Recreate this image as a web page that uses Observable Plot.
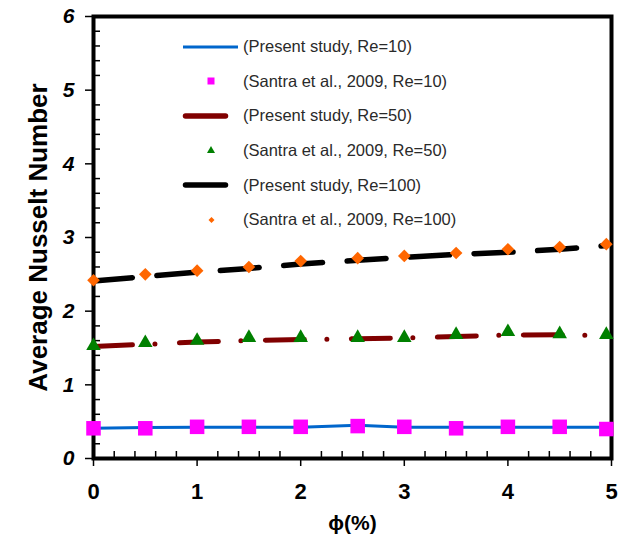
<!DOCTYPE html>
<html>
<head>
<meta charset="utf-8">
<script src="https://cdn.jsdelivr.net/npm/d3@7"></script>
<script src="https://cdn.jsdelivr.net/npm/@observablehq/plot@0.6"></script>
<style>
  body { margin: 0; background: #fff; }
  #wrap { position: relative; width: 626px; height: 536px; }
  #legend {
    position: absolute; left: 180px; top: 29.4px;
    font-family: "Liberation Sans", Arial, sans-serif;
    font-size: 16.5px; color: #2a2a2a;
  }
  .row { height: 34.6px; display: flex; align-items: center; white-space: nowrap; }
  .row svg { width: 63px; height: 20px; flex: none; }
</style>
</head>
<body>
<div id="wrap"><div id="legend"></div></div>
<script>
// Nanofluid volume fraction ϕ (%)
const phi = [0, 0.5, 1, 1.5, 2, 2.55, 3, 3.5, 4, 4.5, 4.95];

// Average Nusselt number, present study (lines) and Santra et al. 2009 (markers)
const presentRe10  = [0.41, 0.42, 0.425, 0.425, 0.425, 0.45, 0.425, 0.425, 0.425, 0.425, 0.425];
const santraRe10   = [0.41, 0.41, 0.43, 0.43, 0.43, 0.44, 0.43, 0.41, 0.43, 0.43, 0.40];
const presentRe50  = [1.52, 1.55, 1.58, 1.60, 1.615, 1.625, 1.635, 1.655, 1.675, 1.68, 1.665];
const santraRe50   = [1.53, 1.57, 1.60, 1.64, 1.64, 1.64, 1.64, 1.68, 1.72, 1.69, 1.68];
const presentRe100 = [2.41, 2.47, 2.53, 2.58, 2.64, 2.69, 2.73, 2.77, 2.80, 2.84, 2.89];
const santraRe100  = [2.42, 2.50, 2.55, 2.60, 2.68, 2.72, 2.75, 2.79, 2.84, 2.87, 2.91];

const seriesLabels = [
  "(Present study, Re=10)",
  "(Santra et al., 2009, Re=10)",
  "(Present study, Re=50)",
  "(Santra et al., 2009, Re=50)",
  "(Present study, Re=100)",
  "(Santra et al., 2009, Re=100)"
];

const xTicks = [0, 1, 2, 3, 4, 5];
const yTicks = [0, 1, 2, 3, 4, 5, 6];
const xMinor = d3.range(0, 5.0001, 0.2).map(v => +v.toFixed(1)).filter(v => !Number.isInteger(v));
const yMinor = d3.range(0, 6.0001, 0.2).map(v => +v.toFixed(1)).filter(v => !Number.isInteger(v));

const rows = ys => phi.map((x, i) => ({x, y: ys[i]}));
const font = "'Liberation Sans', Arial, sans-serif";

const chart = Plot.plot({
  width: 626,
  height: 536,
  marginLeft: 93,
  marginRight: 15,
  marginTop: 16,
  marginBottom: 78,
  x: {domain: [0, 5]},
  y: {domain: [0, 6]},
  style: {fontFamily: font, background: "white", color: "black", overflow: "visible"},
  marks: [
    Plot.frame({stroke: "black", strokeWidth: 4}),
    // minor ticks point inward
    Plot.axisX(xMinor, {tickSize: 7, dy: -7, fill: "none", strokeWidth: 1.5, label: null}),
    Plot.axisY(yMinor, {tickSize: 7, dx: 7, fill: "none", strokeWidth: 1.5, label: null}),
    // major ticks point outward, with labels
    Plot.axisX(xTicks, {tickSize: 8, tickPadding: 17, strokeWidth: 1.5, fontSize: 22, fontWeight: "bold", tickFormat: d => String(d), label: null}),
    Plot.axisY(yTicks, {tickSize: 8, tickPadding: 11, strokeWidth: 1.5, fontSize: 21, fontWeight: "bold", fontStyle: "italic", tickFormat: d => String(d), label: null}),
    Plot.text(["ϕ(%)"], {text: d => d, frameAnchor: "bottom", dy: 71, fontSize: 21, fontWeight: "bold"}),
    Plot.text(["Average Nusselt Number"], {text: d => d, frameAnchor: "left", textAnchor: "middle", dx: -55, rotate: -90, fontSize: 26, fontWeight: "bold", letterSpacing: "0.4px"}),

    Plot.line(rows(presentRe10), {x: "x", y: "y", stroke: "#0066cc", strokeWidth: 3}),
    Plot.dot(rows(santraRe10), {x: "x", y: "y", symbol: "square", r: 8.2, fill: "#ff00ff"}),
    Plot.line(rows(presentRe50), {x: "x", y: "y", stroke: "#800000", strokeWidth: 5, strokeLinecap: "round", strokeDasharray: "39,22.5,0,24.5"}),
    Plot.dot(rows(santraRe50), {x: "x", y: "y", symbol: "triangle", r: 5.4, fill: "#008000"}),
    Plot.line(rows(presentRe100), {x: "x", y: "y", stroke: "black", strokeWidth: 5.5, strokeLinecap: "round", strokeDasharray: "39,24.6"}),
    Plot.dot(rows(santraRe100), {x: "x", y: "y", symbol: "diamond2", r: 5.7, fill: "#ff6600"})
  ]
});

document.getElementById("wrap").prepend(chart);

// Legend: line swatches for the present study, markers for Santra et al.
const swatches = [
  `<line x1="3" x2="58" y1="10" y2="10" stroke="#0066cc" stroke-width="3"/>`,
  `<rect x="27.5" y="6.5" width="7" height="7" fill="#ff00ff"/>`,
  `<line x1="5.5" x2="45.5" y1="10" y2="10" stroke="#800000" stroke-width="5.5" stroke-linecap="round"/>`,
  `<path d="M31,6 L35,13 L27,13 Z" fill="#008000"/>`,
  `<line x1="5.5" x2="45.5" y1="10" y2="10" stroke="black" stroke-width="5.5" stroke-linecap="round"/>`,
  `<path d="M31.5,7 L34.5,10 L31.5,13 L28.5,10 Z" fill="#ff6600"/>`
];
const legend = document.getElementById("legend");
seriesLabels.forEach((label, i) => {
  const row = document.createElement("div");
  row.className = "row";
  row.innerHTML = `<svg viewBox="0 0 63 20">${swatches[i]}</svg><span>${label}</span>`;
  legend.appendChild(row);
});
</script>
</body>
</html>
